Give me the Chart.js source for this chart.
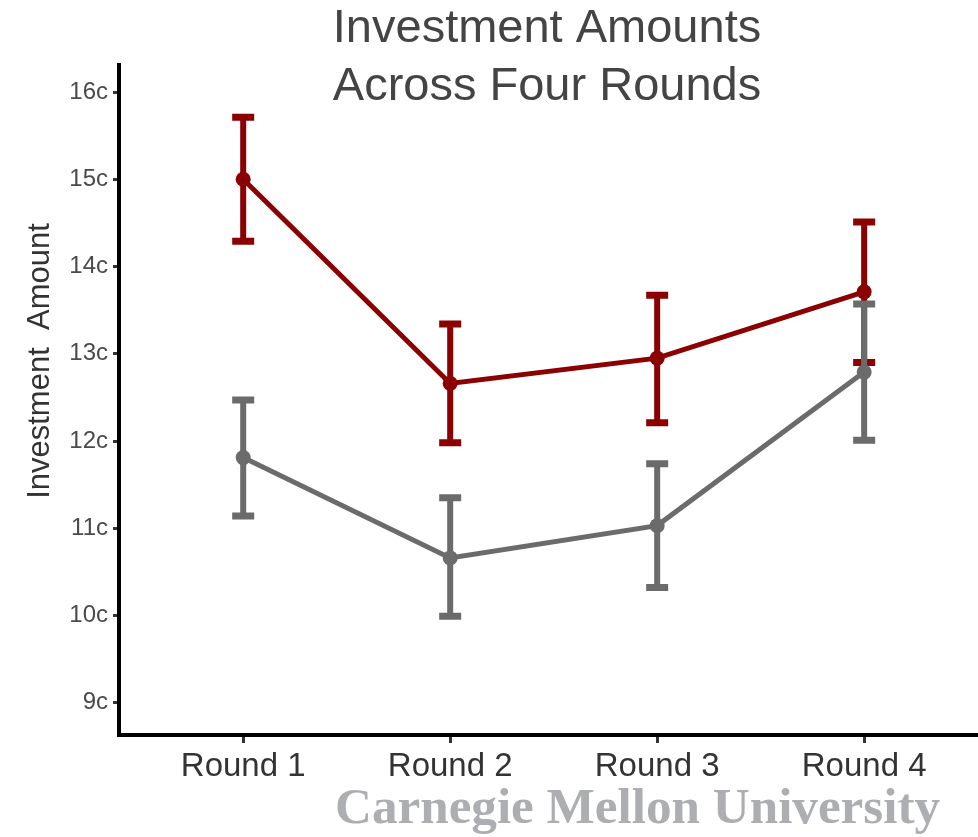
<!DOCTYPE html>
<html>
<head>
<meta charset="utf-8">
<title>Investment Amounts Across Four Rounds</title>
<script src="https://cdn.jsdelivr.net/npm/chart.js@4.4.1/dist/chart.umd.min.js"></script>
<style>
  html, body { margin: 0; padding: 0; background: #fff; }
  #wrap { width: 978px; height: 837px; }
</style>
</head>
<body>
<div id="wrap"><canvas id="investChart" width="978" height="837"></canvas></div>
<script>
// categories and x positions
var rounds = ["Round 1", "Round 2", "Round 3", "Round 4"];
var roundPos = [1, 2, 3, 4];

// red series: mean with lower / upper error bounds (cents)
var redMean = [15.0, 12.66, 12.95, 13.71];
var redLow = [14.29, 11.98, 12.21, 12.90];
var redHigh = [15.71, 13.34, 13.67, 14.51];

// grey series
var greyMean = [11.81, 10.66, 11.03, 12.79];
var greyLow = [11.14, 9.99, 10.32, 12.01];
var greyHigh = [12.47, 11.35, 11.74, 13.57];

var yTicks = [9, 10, 11, 12, 13, 14, 15, 16];

var RED = "#8b0000";
var GREY = "#6b6b6b";
var FONT = "'Liberation Sans', Arial, sans-serif";

function toPoints(vals) {
    return vals.map(function (v, i) { return { x: roundPos[i], y: v }; });
}

// vertical error bars with flat caps, drawn per dataset
var errorBars = {
    id: "errorBars",
    afterDatasetDraw: function (chart, args) {
        var ds = chart.data.datasets[args.index];
        if (!ds.errLow) return;
        var ctx = chart.ctx;
        var xs = chart.scales.x, ys = chart.scales.y;
        ctx.save();
        ctx.strokeStyle = ds.borderColor;
        ctx.lineCap = "butt";
        for (var i = 0; i < ds.errLow.length; i++) {
            var px = xs.getPixelForValue(roundPos[i]);
            var lo = ys.getPixelForValue(ds.errLow[i]);
            var hi = ys.getPixelForValue(ds.errHigh[i]);
            ctx.lineWidth = 6;
            ctx.beginPath();
            ctx.moveTo(px, lo);
            ctx.lineTo(px, hi);
            ctx.stroke();
            ctx.lineWidth = 7;
            ctx.beginPath();
            ctx.moveTo(px - 11, lo);
            ctx.lineTo(px + 11, lo);
            ctx.moveTo(px - 11, hi);
            ctx.lineTo(px + 11, hi);
            ctx.stroke();
        }
        ctx.restore();
    }
};

// title, rotated y label and the wordmark along the bottom
var decorations = {
    id: "decorations",
    afterDraw: function (chart) {
        var ctx = chart.ctx;
        ctx.save();
        ctx.fillStyle = "#444";
        ctx.textAlign = "center";
        ctx.textBaseline = "middle";
        ctx.font = "47px " + FONT;
        ctx.fillText("Investment Amounts", 547, 29);
        ctx.fillText("Across Four Rounds", 547, 87);

        ctx.translate(40, 361);
        ctx.rotate(-Math.PI / 2);
        ctx.fillStyle = "#333";
        ctx.font = "31px " + FONT;
        ctx.fillText("Investment  Amount", 0, 0);
        ctx.restore();

        ctx.save();
        ctx.font = "bold 51px 'Liberation Serif', 'Times New Roman', serif";
        ctx.fillStyle = "#acaeb1";
        ctx.textAlign = "left";
        ctx.textBaseline = "alphabetic";
        var text = "Carnegie Mellon University";
        var w = ctx.measureText(text).width;
        ctx.translate(335, 823);
        ctx.scale(605 / w, 1);
        ctx.fillText(text, 0, 0);
        ctx.restore();
    }
};

var investChart = new Chart(document.getElementById("investChart"), {
    type: "line",
    data: {
        datasets: [{
            label: "Grey",
            data: toPoints(greyMean),
            errLow: greyLow,
            errHigh: greyHigh,
            borderColor: GREY,
            backgroundColor: GREY,
            borderWidth: 5,
            pointRadius: 7.5,
            pointBorderWidth: 0,
            pointBackgroundColor: GREY,
            tension: 0,
            fill: false
        }, {
            label: "Red",
            data: toPoints(redMean),
            errLow: redLow,
            errHigh: redHigh,
            borderColor: RED,
            backgroundColor: RED,
            borderWidth: 5,
            pointRadius: 7.5,
            pointBorderWidth: 0,
            pointBackgroundColor: RED,
            tension: 0,
            fill: false
        }]
    },
    options: {
        responsive: false,
        animation: false,
        layout: {
            autoPadding: false,
            padding: { top: 65, right: 0, bottom: 0, left: 0 }
        },
        plugins: {
            legend: { display: false },
            tooltip: { enabled: false },
            title: { display: false }
        },
        scales: {
            x: {
                type: "linear",
                min: 0.4,
                max: 4.55,
                afterFit: function (scale) {
                    scale.height = 102;
                    scale.paddingLeft = 0;
                    scale.paddingRight = 0;
                },
                afterBuildTicks: function (scale) {
                    scale.ticks = roundPos.map(function (v) { return { value: v }; });
                },
                ticks: {
                    autoSkip: false,
                    maxRotation: 0,
                    padding: 4,
                    color: "#333",
                    font: { family: FONT, size: 33 },
                    callback: function (v) { return rounds[roundPos.indexOf(v)]; }
                },
                grid: {
                    display: true,
                    drawOnChartArea: false,
                    drawTicks: true,
                    tickLength: 8,
                    tickWidth: 3,
                    tickColor: "#333"
                },
                border: { display: true, color: "#000", width: 4 }
            },
            y: {
                min: 8.63,
                max: 16.31,
                afterFit: function (scale) { scale.width = 119; },
                afterBuildTicks: function (scale) {
                    scale.ticks = yTicks.map(function (v) { return { value: v }; });
                },
                ticks: {
                    padding: 5,
                    color: "#4a4a4a",
                    font: { family: FONT, size: 24 },
                    callback: function (v) { return v + "c"; }
                },
                grid: {
                    display: true,
                    drawOnChartArea: false,
                    drawTicks: true,
                    tickLength: 6,
                    tickWidth: 3,
                    tickColor: "#333"
                },
                border: { display: true, color: "#000", width: 4 }
            }
        }
    },
    plugins: [errorBars, decorations]
});
</script>
</body>
</html>
